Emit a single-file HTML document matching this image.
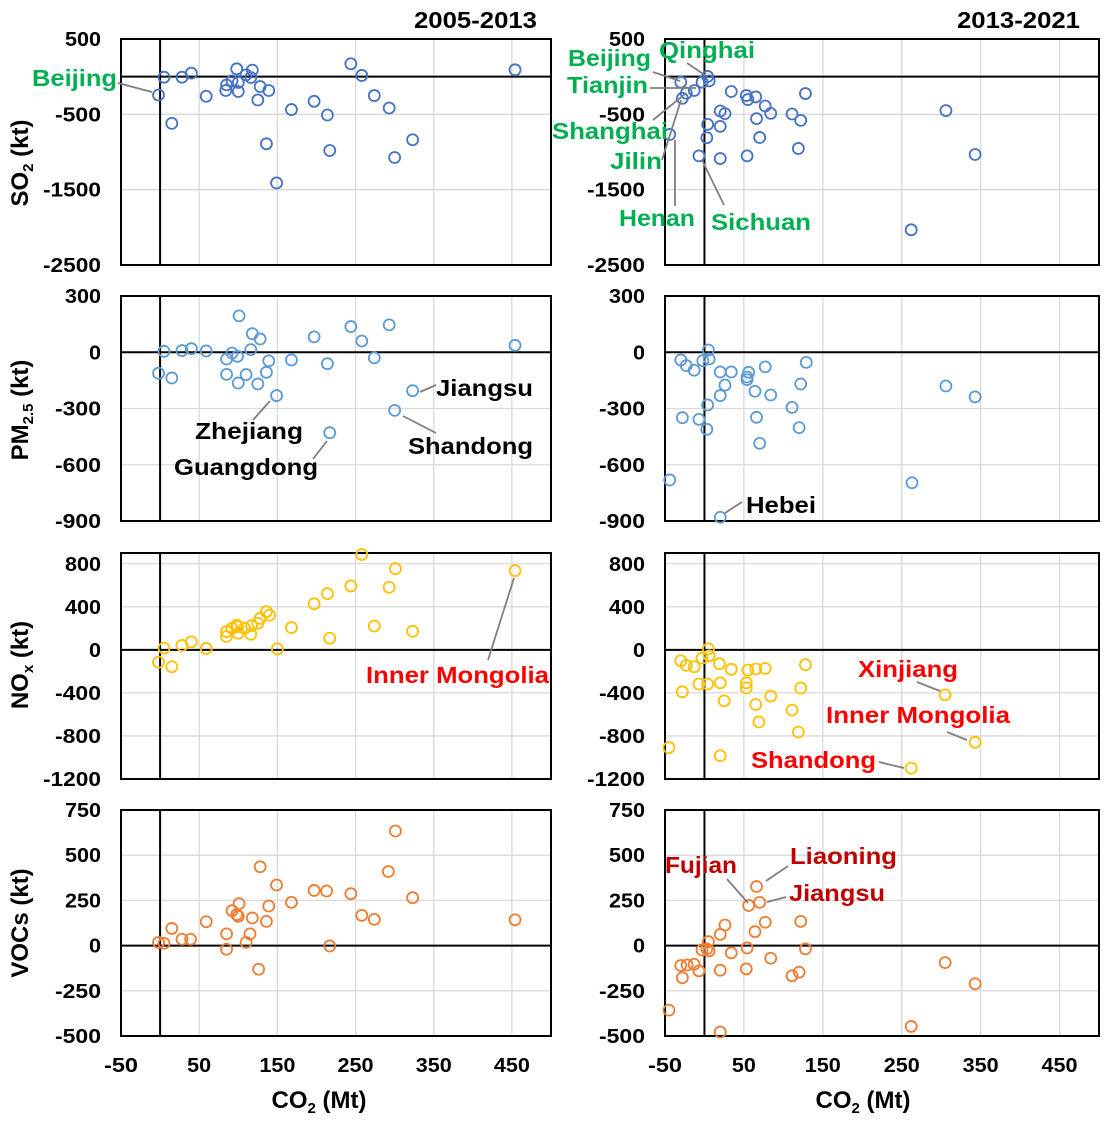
<!DOCTYPE html>
<html><head><meta charset="utf-8">
<style>
html,body{margin:0;padding:0;background:#fff;}
body{position:relative;width:1112px;height:1124px;overflow:hidden;}
svg{position:absolute;left:0;top:0;}
svg text{font-family:"Liberation Sans",Arial,sans-serif;font-weight:bold;}
</style></head>
<body>
<svg id="chart" width="1112" height="1124" viewBox="0 0 1112 1124" xmlns="http://www.w3.org/2000/svg">
<rect width="1112" height="1124" fill="#fff"/>
<text x="537" y="28" text-anchor="end" font-size="23" textLength="123" lengthAdjust="spacingAndGlyphs">2005-2013</text>
<text x="1080" y="28" text-anchor="end" font-size="23" textLength="123" lengthAdjust="spacingAndGlyphs">2013-2021</text>
<g id="panels"></g>
</svg>
<script>
// Left column (2005-2013) CO2 changes, Mt
const so2LeftX = [-2,5,15,28,40,59,98,85,84,92,100,100,110,118,116,128,139,125,136,149,168,197,214,217,244,258,274,293,300,323,454];
const so2LeftY = [-243,-7,-620,-7,47,-260,104,-109,-184,-56,-77,-197,24,87,-11,-131,-184,-309,-891,-1411,-437,-327,-509,-980,171,16,-251,-416,-1073,-837,91];
const so2RightX = [-30,4,6,-3,-13,-23,-28,-44,-7,4,3,20,20,20,26,34,53,55,65,54,66,77,84,70,111,122,119,128,306,343,262];
const so2RightY = [-73,3,-56,-73,-184,-220,-287,-767,-1051,-633,-811,-660,-1087,-456,-491,-197,-251,-304,-269,-1051,-557,-389,-487,-807,-496,-580,-953,-224,-451,-1033,-2033];
const pmLeftX = [-2,5,15,28,40,59,101,92,85,99,85,100,110,118,128,116,139,136,125,149,168,197,214,217,244,258,274,293,300,323,454];
const pmLeftY = [-112,5,-137,9,19,7,194,-4,-36,-22,-118,-164,-119,99,71,14,-46,-107,-169,-231,-41,82,-61,-429,137,60,-30,146,-310,-205,37];
const pmRightX = [-44,-30,-23,-13,-28,-7,-2,5,6,4,3,20,20,26,20,34,56,54,54,77,64,66,70,84,111,120,122,129,306,343,263];
const pmRightY = [-681,-41,-71,-96,-349,-358,-45,12,-36,-281,-411,-105,-880,-175,-231,-105,-107,-132,-146,-78,-208,-347,-486,-228,-294,-402,-169,-54,-180,-238,-696];
const noxLeftX = [-2,5,15,28,40,59,85,85,92,99,100,108,116,117,125,128,136,140,150,168,197,214,217,244,258,274,293,301,323,454,98];
const noxLeftY = [-114,16,-157,41,74,13,124,170,200,216,154,200,145,225,247,293,355,323,9,207,428,523,108,594,886,222,582,754,173,736,230];
const noxRightX = [-45,-30,-23,-13,-28,-7,-3,5,6,4,19,20,20,25,34,55,65,77,53,53,65,69,84,111,119,122,128,305,343,262];
const noxRightY = [-908,-101,-144,-157,-390,-317,-77,9,-55,-317,-129,-307,-984,-474,-181,-187,-178,-172,-307,-354,-508,-670,-430,-560,-763,-354,-138,-418,-859,-1099];
const vocLeftX = [-2,5,15,28,39,59,85,85,92,101,98,100,110,115,118,128,126,136,139,149,168,197,213,217,244,258,274,292,301,323,454];
const vocLeftY = [18,13,95,35,35,132,65,-20,193,232,171,162,18,65,153,436,-131,134,219,335,239,305,302,-2,287,167,145,410,634,265,143];
const vocRightX = [-45,-30,-22,-13,-28,-7,-3,5,6,3,20,26,20,20,34,56,66,70,64,77,54,53,84,111,120,122,128,305,343,262];
const vocRightY = [-357,-110,-107,-103,-178,-140,-24,22,-29,-18,62,114,-136,-478,-40,222,327,239,77,129,-13,-129,-70,-167,-147,134,-18,-94,-211,-447];

const xTicks = [-50,50,150,250,350,450];
const so2Ticks = [500,-500,-1500,-2500];
const pmTicks = [300,0,-300,-600,-900];
const noxTicks = [800,400,0,-400,-800,-1200];
const vocTicks = [750,500,250,0,-250,-500];

const NS = 'http://www.w3.org/2000/svg';
const root = document.getElementById('panels');
function mk(tag, attrs, parent){
  const e = document.createElementNS(NS, tag);
  for (const k in attrs) e.setAttribute(k, attrs[k]);
  (parent||root).appendChild(e);
  return e;
}
function tw(t){ const s = String(t); return s.replace('-','').length*12 + (s[0]==='-'?10:0); }
const cols = [{x0:121,x1:551,tickX:101},{x0:665,x1:1099,tickX:645}];
const rows = [
  {y0:39,y1:265,min:-2500,max:500,ticks:so2Ticks,grid:[-500,-1500],color:'#4472C4',name:'so2'},
  {y0:296,y1:521,min:-900,max:300,ticks:pmTicks,grid:[-300,-600],color:'#5B9BD5',name:'pm25'},
  {y0:553,y1:779,min:-1200,max:900,ticks:noxTicks,grid:[800,400,-400,-800],color:'#FFC000',name:'nox'},
  {y0:810,y1:1036,min:-500,max:750,ticks:vocTicks,grid:[500,250,-250],color:'#ED7D31',name:'vocs'}
];
const data = [
  [[so2LeftX,so2LeftY],[so2RightX,so2RightY]],
  [[pmLeftX,pmLeftY],[pmRightX,pmRightY]],
  [[noxLeftX,noxLeftY],[noxRightX,noxRightY]],
  [[vocLeftX,vocLeftY],[vocRightX,vocRightY]]
];
rows.forEach((r,ri)=>{
  cols.forEach((c,ci)=>{
    const g = mk('g',{});
    
    
    const sx = v => c.x0 + (v+50)/550*(c.x1-c.x0);
    const sy = v => r.y1 - (v-r.min)/(r.max-r.min)*(r.y1-r.y0);
    xTicks.slice(1).forEach(t=>{
      const l = mk('line',{x1:sx(t),x2:sx(t),y1:r.y0,y2:r.y1,stroke:'#d9d9d9','stroke-width':1.3},g);
      
      
    });
    r.grid.forEach(t=>{
      const l = mk('line',{x1:c.x0,x2:c.x1,y1:sy(t),y2:sy(t),stroke:'#d9d9d9','stroke-width':1.3},g);
      
      
    });
    const zx = mk('line',{x1:sx(0),x2:sx(0),y1:r.y0,y2:r.y1,stroke:'#000','stroke-width':2},g);
    
    
    const zy = mk('line',{x1:c.x0,x2:c.x1,y1:sy(0),y2:sy(0),stroke:'#000','stroke-width':2},g);
    
    
    const fr = mk('rect',{x:c.x0,y:r.y0,width:c.x1-c.x0,height:r.y1-r.y0,fill:'none',stroke:'#000','stroke-width':2},g);
    
    
    r.ticks.forEach(t=>{
      const tx = mk('text',{x:c.tickX,y:sy(t)+7,'text-anchor':'end','font-size':20,textLength:tw(t),lengthAdjust:'spacingAndGlyphs'},g);
      
      
      tx.textContent = t;
    });
    if (ri===3){
      xTicks.forEach(t=>{
        const tx = mk('text',{x:sx(t),y:1072,'text-anchor':'middle','font-size':20,textLength:tw(t),lengthAdjust:'spacingAndGlyphs'},g);
        
        
        tx.textContent = t;
      });
    }
    const [xs, ys] = data[ri][ci];
    xs.forEach((xv,i)=>{
      const p = mk('circle',{cx:sx(xv),cy:sy(ys[i]),r:5.5,fill:'none',stroke:r.color,'stroke-width':1.8},g);
      
      
    });
  });
});
</script>
<svg width="1112" height="1124" xmlns="http://www.w3.org/2000/svg">
<g font-weight="bold" font-size="24">
<text transform="translate(28,163) rotate(-90)" text-anchor="middle">SO<tspan font-size="15" dy="5">2</tspan><tspan dy="-5"> (kt)</tspan></text>
<text transform="translate(28,410) rotate(-90)" text-anchor="middle">PM<tspan font-size="15" dy="5">2.5</tspan><tspan dy="-5"> (kt)</tspan></text>
<text transform="translate(28,665) rotate(-90)" text-anchor="middle">NO<tspan font-size="15" dy="5">x</tspan><tspan dy="-5"> (kt)</tspan></text>
<text transform="translate(28,923) rotate(-90)" text-anchor="middle">VOCs (kt)</text>
<text x="319" y="1108" text-anchor="middle">CO<tspan font-size="15" dy="5">2</tspan><tspan dy="-5"> (Mt)</tspan></text>
<text x="863" y="1108" text-anchor="middle">CO<tspan font-size="15" dy="5">2</tspan><tspan dy="-5"> (Mt)</tspan></text>
</g>
<g stroke="#7f7f7f" stroke-width="1.8">
<line x1="118" y1="83" x2="152" y2="92"/>
<line x1="653" y1="72" x2="680" y2="81"/>
<line x1="687" y1="63" x2="706" y2="76"/>
<line x1="650" y1="88" x2="696" y2="88"/>
<line x1="653" y1="120" x2="685" y2="94"/>
<line x1="662" y1="160" x2="681" y2="100"/>
<line x1="675" y1="206" x2="675" y2="140"/>
<line x1="724" y1="205" x2="702" y2="160"/>
<line x1="253" y1="420" x2="270" y2="401"/>
<line x1="313" y1="459" x2="327" y2="441"/>
<line x1="420" y1="392" x2="436" y2="385"/>
<line x1="403" y1="416" x2="436" y2="433"/>
<line x1="725" y1="513" x2="742" y2="502"/>
<line x1="488" y1="660" x2="514" y2="578"/>
<line x1="917" y1="682" x2="940" y2="691"/>
<line x1="947" y1="732" x2="967" y2="740"/>
<line x1="879" y1="762" x2="904" y2="768"/>
<line x1="727" y1="879" x2="748" y2="903"/>
<line x1="788" y1="866" x2="766" y2="881"/>
<line x1="786" y1="897" x2="767" y2="902"/>
</g>
<g font-weight="bold" font-size="23" fill="#00B050" lengthAdjust="spacingAndGlyphs">
<text x="32" y="86" textLength="85" lengthAdjust="spacingAndGlyphs">Beijing</text>
<text x="568" y="66" textLength="83" lengthAdjust="spacingAndGlyphs">Beijing</text>
<text x="659" y="58" textLength="96" lengthAdjust="spacingAndGlyphs">Qinghai</text>
<text x="567" y="93" textLength="81" lengthAdjust="spacingAndGlyphs">Tianjin</text>
<text x="552" y="139" textLength="116" lengthAdjust="spacingAndGlyphs">Shanghai</text>
<text x="610" y="169" textLength="52" lengthAdjust="spacingAndGlyphs">Jilin</text>
<text x="619" y="226" textLength="76" lengthAdjust="spacingAndGlyphs">Henan</text>
<text x="711" y="230" textLength="100" lengthAdjust="spacingAndGlyphs">Sichuan</text>
</g>
<g font-weight="bold" font-size="23" fill="#000">
<text x="195" y="439" textLength="108" lengthAdjust="spacingAndGlyphs">Zhejiang</text>
<text x="174" y="475" textLength="144" lengthAdjust="spacingAndGlyphs">Guangdong</text>
<text x="436" y="396" textLength="97" lengthAdjust="spacingAndGlyphs">Jiangsu</text>
<text x="408" y="454" textLength="125" lengthAdjust="spacingAndGlyphs">Shandong</text>
<text x="746" y="513" textLength="70" lengthAdjust="spacingAndGlyphs">Hebei</text>
</g>
<g font-weight="bold" font-size="23" fill="#FF0000">
<text x="366" y="683" textLength="183" lengthAdjust="spacingAndGlyphs">Inner Mongolia</text>
<text x="858" y="677" textLength="100" lengthAdjust="spacingAndGlyphs">Xinjiang</text>
<text x="826" y="723" textLength="184" lengthAdjust="spacingAndGlyphs">Inner Mongolia</text>
<text x="751" y="768" textLength="125" lengthAdjust="spacingAndGlyphs">Shandong</text>
</g>
<g font-weight="bold" font-size="23" fill="#C00000">
<text x="665" y="873" textLength="72" lengthAdjust="spacingAndGlyphs">Fujian</text>
<text x="790" y="864" textLength="107" lengthAdjust="spacingAndGlyphs">Liaoning</text>
<text x="789" y="901" textLength="96" lengthAdjust="spacingAndGlyphs">Jiangsu</text>
</g>
</svg>
</body></html>
